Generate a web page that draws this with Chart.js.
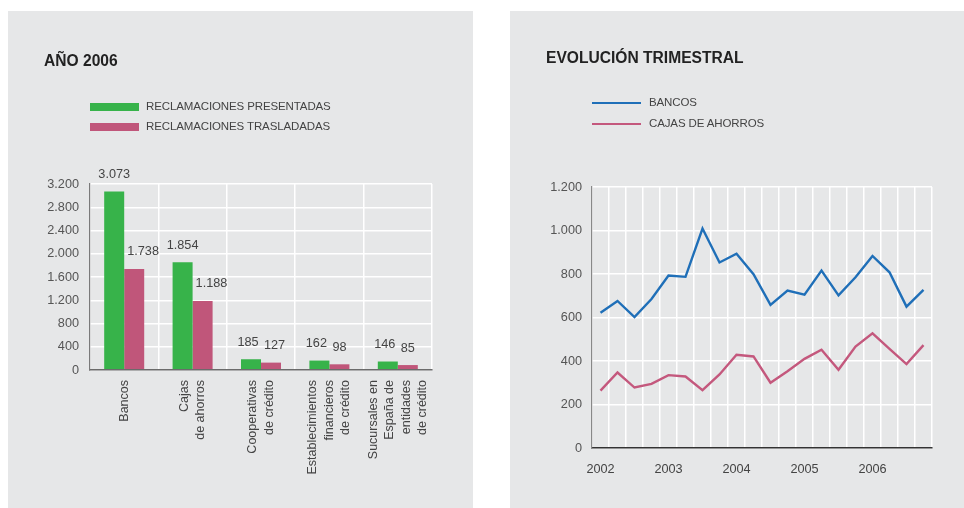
<!DOCTYPE html>
<html><head><meta charset="utf-8">
<script src="https://cdn.jsdelivr.net/npm/chart.js@4.4.1/dist/chart.umd.min.js"></script>
<style>
html,body{margin:0;padding:0;background:#fff;width:964px;height:508px;overflow:hidden;font-family:'Liberation Sans',Arial,sans-serif;}
.panel{position:absolute;background:#e6e7e8;}
.panel canvas{position:absolute;left:0;top:0;}
.title{position:absolute;font-weight:bold;font-size:15.6px;line-height:1;color:#222;white-space:nowrap;}
.leg{position:absolute;font-size:11.5px;letter-spacing:-0.12px;line-height:1;color:#444;white-space:nowrap;}
.sw{position:absolute;}
</style></head>
<body>
<div class="panel" id="p1" style="left:8px;top:11px;width:465px;height:497px;">
  <canvas id="c1" width="465" height="497" style="width:465px;height:497px"></canvas>
</div>
<div class="panel" id="p2" style="left:510px;top:11px;width:454px;height:497px;">
  <canvas id="c2" width="454" height="497" style="width:454px;height:497px"></canvas>
</div>
<div class="title" style="left:44px;top:53px;">AÑO 2006</div>
<div class="title" style="left:546px;top:50px;">EVOLUCIÓN TRIMESTRAL</div>
<div id="legends"></div>
<script>
// ---------- data: AÑO 2006 ----------
const entityLabels = [
  ['Bancos'],
  ['Cajas', 'de ahorros'],
  ['Cooperativas', 'de crédito'],
  ['Establecimientos', 'financieros', 'de crédito'],
  ['Sucursales en', 'España de', 'entidades', 'de crédito']
];
const presentadas = [3073, 1854, 185, 162, 146];
const trasladadas = [1738, 1188, 127, 98, 85];
const barSeriesNames = ['RECLAMACIONES PRESENTADAS', 'RECLAMACIONES TRASLADADAS'];

// ---------- data: EVOLUCIÓN TRIMESTRAL ----------
const quarters = [
  '2002 T1','2002 T2','2002 T3','2002 T4',
  '2003 T1','2003 T2','2003 T3','2003 T4',
  '2004 T1','2004 T2','2004 T3','2004 T4',
  '2005 T1','2005 T2','2005 T3','2005 T4',
  '2006 T1','2006 T2','2006 T3','2006 T4'
];
const bancos = [622, 676, 602, 685, 793, 787, 1009, 853, 893, 799, 658, 724, 705, 816, 702, 785, 883, 808, 650, 727];
const cajas  = [264, 347, 278, 295, 335, 329, 266, 338, 429, 421, 300, 353, 410, 452, 360, 466, 527, 456, 386, 473];
const lineSeriesNames = ['BANCOS', 'CAJAS DE AHORROS'];

const GREEN = '#37b34a', PINK = '#c0567a', BLUE = '#1f6fb8', PINKL = '#c4587d';
const FONT = "'Liberation Sans', Arial, sans-serif";
const fmt = v => String(v).replace(/\B(?=(\d{3})+(?!\d))/g, '.');

// legends (HTML)
const lg = document.getElementById('legends');
function addLeg(x, y, w, h, color, text, tx) {
  const s = document.createElement('div'); s.className = 'sw';
  s.style.cssText = `left:${x}px;top:${y - h/2}px;width:${w}px;height:${h}px;background:${color}`;
  lg.appendChild(s);
  const t = document.createElement('div'); t.className = 'leg'; t.textContent = text;
  t.style.left = tx + 'px'; t.style.top = (y - 6) + 'px';
  lg.appendChild(t);
}
addLeg(90, 107, 49, 8, GREEN, barSeriesNames[0], 146);
addLeg(90, 127, 49, 8, PINK, barSeriesNames[1], 146);
addLeg(592, 103, 49, 2.2, BLUE, lineSeriesNames[0], 649);
addLeg(592, 124, 49, 2.2, PINKL, lineSeriesNames[1], 649);

// plugins for bar chart
const barLabelPlugin = {
  id: 'barLabels',
  afterDatasetsDraw(chart) {
    const ctx = chart.ctx;
    ctx.save();
    ctx.font = `12.7px ${FONT}`;
    ctx.fillStyle = '#444';
    ctx.textBaseline = 'middle';
    chart.data.datasets.forEach((ds, di) => {
      chart.getDatasetMeta(di).data.forEach((bar, i) => {
        const v = ds.data[i];
        const y = bar.y - 17;
        if (di === 0) {
          ctx.textAlign = 'center';
          ctx.fillText(fmt(v), bar.x - (v < 1000 ? 3 : 0), y);
        } else {
          ctx.textAlign = 'left';
          ctx.fillText(fmt(v), bar.x - bar.width / 2 + 3, y);
        }
      });
    });
    ctx.restore();
  }
};
const catLabelPlugin = {
  id: 'catLabels',
  afterDraw(chart) {
    const ctx = chart.ctx, x = chart.scales.x;
    const LH = 16.5;
    ctx.save();
    ctx.font = `12.5px ${FONT}`;
    ctx.fillStyle = '#444';
    ctx.textAlign = 'right';
    ctx.textBaseline = 'middle';
    chart.data.labels.forEach((lines, i) => {
      const cx = x.getPixelForValue(i);
      const n = lines.length;
      lines.forEach((t, j) => {
        ctx.save();
        ctx.translate(cx + (j - (n - 1) / 2) * LH, chart.chartArea.bottom + 10);
        ctx.rotate(-Math.PI / 2);
        ctx.fillText(t, 0, 0);
        ctx.restore();
      });
    });
    ctx.restore();
  }
};

Chart.defaults.font.family = FONT;
Chart.defaults.animation = false;

new Chart(document.getElementById('c1'), {
  type: 'bar',
  data: {
    labels: entityLabels,
    datasets: [
      { label: barSeriesNames[0], data: presentadas, backgroundColor: GREEN, categoryPercentage: 0.585, barPercentage: 1 },
      { label: barSeriesNames[1], data: trasladadas, backgroundColor: PINK, categoryPercentage: 0.585, barPercentage: 1 }
    ]
  },
  options: {
    responsive: false,
    animation: false,
    layout: { padding: { top: 173, right: 41, left: 0, bottom: 0 } },
    plugins: { legend: { display: false }, tooltip: { enabled: false } },
    scales: {
      x: {
        offset: true,
        grid: { color: '#ffffff', lineWidth: 1.5, offset: true, drawTicks: false },
        border: { display: true, color: '#6b6b6b', width: 1.5, z: 1 },
        ticks: { display: false },
        afterFit(s) { s.height = 138; }
      },
      y: {
        min: 0, max: 3200,
        grid: { color: '#ffffff', lineWidth: 1.5, drawTicks: false },
        border: { display: true, color: '#7a7a7a', width: 1.2, z: 1 },
        ticks: { stepSize: 400, padding: 11, color: '#555', font: { size: 12.7 }, callback: v => fmt(v) },
        afterFit(s) { s.width = 82; }
      }
    }
  },
  plugins: [barLabelPlugin, catLabelPlugin]
});

new Chart(document.getElementById('c2'), {
  type: 'line',
  data: {
    labels: quarters,
    datasets: [
      { label: lineSeriesNames[0], data: bancos, borderColor: BLUE, borderWidth: 2.4, pointRadius: 0, tension: 0, fill: false },
      { label: lineSeriesNames[1], data: cajas, borderColor: PINKL, borderWidth: 2.4, pointRadius: 0, tension: 0, fill: false }
    ]
  },
  options: {
    responsive: false,
    animation: false,
    layout: { padding: { top: 176, right: 32, left: 0, bottom: 0 } },
    plugins: { legend: { display: false }, tooltip: { enabled: false } },
    scales: {
      x: {
        offset: true,
        grid: { color: '#ffffff', lineWidth: 1.5, offset: true, drawTicks: false },
        border: { display: true, color: '#333', width: 1.5, z: 1 },
        ticks: {
          autoSkip: false, maxRotation: 0, minRotation: 0, padding: 13.5, color: '#444', font: { size: 12.7 },
          callback(v, i) { const q = quarters[i]; return q.endsWith('T1') ? q.slice(0, 4) : ''; }
        },
        afterFit(s) { s.height = 60; }
      },
      y: {
        min: 0, max: 1200,
        grid: { color: '#ffffff', lineWidth: 1.5, drawTicks: false },
        border: { display: true, color: '#888', width: 1.2, z: 1 },
        ticks: { stepSize: 200, padding: 10, color: '#555', font: { size: 12.7 }, callback: v => fmt(v) },
        afterFit(s) { s.width = 82; }
      }
    }
  }
});
</script>
</body></html>
